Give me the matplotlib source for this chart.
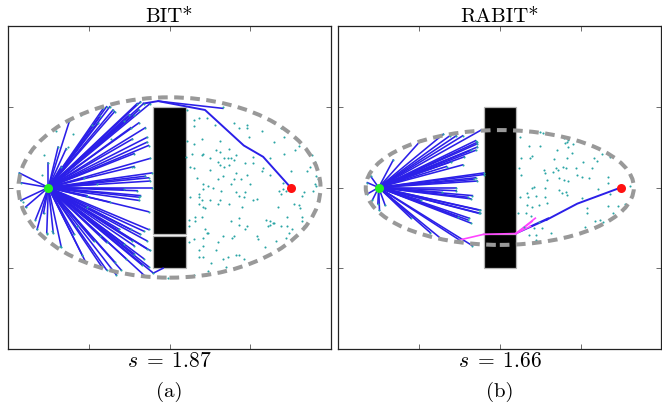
import numpy as np
import matplotlib
matplotlib.use('Agg')
import matplotlib.pyplot as plt
from matplotlib.patches import Ellipse, Rectangle

plt.rcParams['mathtext.fontset'] = 'cm'
plt.rcParams['font.family'] = 'serif'
plt.rcParams['font.serif'] = ['cmr10', 'DejaVu Serif']
plt.rcParams['axes.formatter.use_mathtext'] = True

START = (-0.75, 0.0)
GOAL = (0.75, 0.0)
titles = ['BIT*', 'RABIT*']
costs = [1.87, 1.66]
sublabels = ['(a)', '(b)']

# obstacles (x, y, w, h): a narrow gap near y = -0.29
obst_a = [(-0.1, -0.285, 0.2, 0.785), (-0.1, -0.5, 0.2, 0.2)]
obst_b = [(-0.1, -0.285, 0.2, 0.785), (-0.1, -0.5, 0.2, 0.21)]

# --- BIT* ---
bit_tree = [
    (-0.39, 0.50), (-0.37, 0.50), (-0.18, 0.53), (-0.16, 0.52), (-0.20, 0.52), (-0.62, 0.41),
    (-0.44, 0.40), (-0.43, 0.44), (-0.35, 0.48), (-0.14, 0.31), (-0.14, 0.28), (-0.15, 0.37),
    (-0.19, 0.40), (-0.22, 0.45), (-0.69, 0.25), (-0.75, 0.15), (-0.67, 0.13), (-0.22, 0.13),
    (-0.11, 0.09), (-0.13, 0.06), (-0.12, 0.04), (-0.11, 0.00), (-0.20, -0.02), (-0.19, -0.06),
    (-0.19, -0.08), (-0.37, -0.09), (-0.13, -0.15), (-0.93, 0.09), (-0.92, 0.03), (-0.92, -0.08),
    (-0.89, -0.12), (-0.82, -0.26), (-0.78, -0.16), (-0.76, -0.28), (-0.72, -0.28), (-0.67, -0.37),
    (-0.54, -0.42), (-0.42, -0.49), (-0.39, -0.51), (-0.33, -0.54), (-0.15, -0.55), (-0.13, -0.49),
    (-0.14, -0.38), (-0.14, -0.33), (-0.18, -0.29), (-0.24, -0.26), (-0.13, -0.26), (-0.31, -0.26),
    (-0.23, -0.33), (-0.22, -0.41), (-0.27, -0.44), (-0.16, -0.44), (-0.10, -0.53), (-0.41, 0.49),
    (-0.34, 0.47), (-0.25, 0.45), (-0.19, 0.48), (-0.12, 0.52), (-0.64, 0.24), (-0.23, 0.30),
    (-0.22, 0.21), (-0.12, 0.18), (-0.13, 0.26), (-0.28, 0.41), (-0.24, 0.37), (-0.15, 0.07),
    (-0.53, 0.06), (-0.45, 0.02), (-0.83, -0.20), (-0.52, -0.46), (-0.34, -0.46), (-0.30, -0.51),
    (-0.17, -0.48), (-0.12, -0.39), (-0.16, -0.27), (-0.18, -0.05), (-0.51, -0.05), (-0.28, -0.01),
    (-0.59, -0.29), (-0.47, -0.33), (-0.39, -0.34), (-0.28, -0.35), (-0.22, -0.36),
]
bit_path = [(-0.16, 0.52), (-0.07, 0.535), (0.22, 0.48), (0.46, 0.26), (0.58, 0.19), (0.75, 0.0)]
bit_extra = [((-0.07, 0.535), (0.33, 0.49)), ((-0.10, -0.53), (-0.04, -0.50))]
bit_samples = [
    (0.33, 0.50), (0.15, 0.42), (0.18, 0.43), (0.23, 0.43), (0.15, 0.38), (0.28, 0.39), (0.40, 0.40),
    (0.43, 0.37), (0.48, 0.39), (0.48, 0.37), (0.49, 0.31), (0.11, 0.29), (0.20, 0.30), (0.31, 0.29),
    (0.15, 0.27), (0.37, 0.24), (0.29, 0.23), (0.31, 0.22), (0.14, 0.21), (0.20, 0.20), (0.21, 0.205),
    (0.41, 0.20), (0.10, 0.19), (0.25, 0.18), (0.34, 0.18), (0.36, 0.18), (0.38, 0.18), (0.30, 0.16),
    (0.40, 0.17), (0.52, 0.19), (0.31, 0.14), (0.37, 0.14), (0.47, 0.15), (0.52, 0.15), (0.13, 0.13),
    (0.15, 0.12), (0.34, 0.13), (0.25, 0.11), (0.41, 0.09), (0.48, 0.08), (0.33, 0.07), (0.17, 0.06),
    (0.40, 0.05), (0.44, 0.05), (0.30, 0.05), (0.21, 0.02), (0.24, 0.01), (0.38, 0.02), (0.50, 0.02),
    (0.57, 0.35), (0.69, 0.37), (0.71, 0.31), (0.65, 0.28), (0.80, 0.26), (0.78, 0.23), (0.71, 0.21),
    (0.62, 0.18), (0.88, 0.20), (0.90, 0.16), (0.87, 0.13), (0.58, 0.12), (0.57, 0.10), (0.75, 0.10),
    (0.85, 0.10), (0.62, 0.08), (0.91, 0.07), (0.92, 0.05), (0.70, 0.03), (0.90, 0.02), (0.91, 0.01),
    (0.21, -0.01), (0.27, 0.00), (0.32, -0.02), (0.41, -0.03), (0.47, -0.03), (0.18, -0.04),
    (0.43, -0.05), (0.13, -0.06), (0.18, -0.06), (0.46, -0.06), (0.20, -0.08), (0.25, -0.08),
    (0.31, -0.08), (0.52, -0.08), (0.18, -0.10), (0.30, -0.10), (0.37, -0.10), (0.21, -0.12),
    (0.22, -0.13), (0.45, -0.12), (0.20, -0.18), (0.16, -0.18), (0.43, -0.19), (0.12, -0.20),
    (0.16, -0.21), (0.38, -0.21), (0.43, -0.23), (0.48, -0.24), (0.12, -0.24), (0.47, -0.26),
    (0.22, -0.26), (0.23, -0.28), (0.24, -0.28), (0.40, -0.30), (0.39, -0.31), (0.21, -0.31),
    (0.33, -0.30), (0.15, -0.32), (0.30, -0.34), (0.12, -0.34), (0.21, -0.36), (0.29, -0.39),
    (0.18, -0.39), (0.18, -0.43), (0.21, -0.43), (0.36, -0.43), (0.41, -0.42), (0.43, -0.42),
    (0.33, -0.44), (0.46, -0.44), (0.26, -0.47), (0.35, -0.49), (0.24, -0.52), (0.15, -0.54),
    (0.68, -0.02), (0.70, -0.01), (0.72, -0.02), (0.69, -0.04), (0.83, -0.03), (0.82, -0.05),
    (0.89, -0.02), (0.92, -0.08), (0.54, -0.07), (0.77, -0.10), (0.80, -0.11), (0.81, -0.13),
    (0.67, -0.12), (0.73, -0.18), (0.82, -0.18), (0.60, -0.20), (0.62, -0.21), (0.64, -0.22),
    (0.65, -0.22), (0.62, -0.23), (0.61, -0.24), (0.69, -0.24), (0.73, -0.24), (0.76, -0.26),
    (0.82, -0.21), (0.83, -0.24), (0.74, -0.28), (0.54, -0.30), (0.55, -0.32), (0.72, -0.31),
    (0.66, -0.33), (0.59, -0.37), (0.11, 0.48), (-0.01, -0.56),
    (-0.79, 0.08), (-0.78, 0.20), (-0.70, 0.35), (-0.63, 0.25), (-0.60, 0.33), (-0.36, 0.30),
    (-0.23, 0.13), (-0.55, 0.45), (-0.48, 0.39), (-0.73, -0.27), (-0.76, -0.29), (-0.68, -0.36),
    (-0.57, -0.24), (-0.43, -0.30), (-0.91, -0.09), (-0.51, -0.12),
]

# --- RABIT* ---
rabit_tree = [
    (-0.49, 0.29), (-0.35, 0.33), (-0.31, 0.32), (-0.27, 0.32), (-0.23, 0.32), (-0.115, 0.356),
    (-0.15, 0.29), (-0.14, 0.27), (-0.14, 0.25), (-0.18, 0.23), (-0.22, 0.19), (-0.30, 0.16),
    (-0.33, 0.13), (-0.23, 0.14), (-0.66, 0.17), (-0.10, 0.09), (-0.15, 0.06), (-0.14, 0.04),
    (-0.27, 0.00), (-0.27, -0.02), (-0.36, -0.03), (-0.20, -0.06), (-0.18, -0.07), (-0.49, -0.08),
    (-0.13, -0.14), (-0.13, -0.16), (-0.18, -0.22), (-0.20, -0.20), (-0.26, -0.18), (-0.55, -0.19),
    (-0.43, -0.28), (-0.36, -0.32), (-0.25, -0.325), (-0.17, -0.36), (-0.80, 0.07), (-0.82, 0.03),
    (-0.82, -0.04), (-0.79, -0.08), (-0.745, -0.14), (-0.71, -0.11), (-0.755, -0.10), (-0.10, 0.08),
    (-0.14, 0.28), (-0.15, 0.23), (-0.16, 0.05), (-0.17, -0.05), (-0.12, -0.14), (-0.12, -0.16),
    (-0.19, -0.19),
]
rabit_magenta = [((-0.25, -0.325), (-0.10, -0.29)), ((-0.10, -0.29), (0.10, -0.285)),
                 ((0.10, -0.285), (0.22, -0.19)), ((0.10, -0.285), (0.20, -0.21)),
                 ((0.10, -0.285), (0.19, -0.24))]
rabit_extra = [((0.10, -0.285), (0.29, -0.20)), ((0.19, -0.24), (0.30, -0.19))]
rabit_path = [(0.29, -0.20), (0.48, -0.10), (0.75, 0.0)]
rabit_samples = [
    (0.126, 0.314), (0.182, 0.257), (0.250, 0.259), (0.398, 0.305), (0.419, 0.284), (0.423, 0.249),
    (0.357, 0.232), (0.450, 0.212), (0.134, 0.185), (0.188, 0.181), (0.202, 0.197), (0.336, 0.176),
    (0.419, 0.181), (0.120, 0.119), (0.130, 0.077), (0.275, 0.108), (0.281, 0.092), (0.330, 0.098),
    (0.347, 0.119), (0.363, 0.108), (0.394, 0.129), (0.409, 0.119), (0.471, 0.119), (0.367, 0.057),
    (0.398, 0.046), (0.425, 0.040), (0.481, 0.077), (0.291, 0.046), (0.213, 0.005), (0.202, -0.005),
    (0.281, -0.001), (0.367, -0.015), (0.409, -0.026), (0.419, -0.046), (0.388, -0.036),
    (0.126, -0.057), (0.171, -0.036), (0.176, -0.057), (0.223, -0.051), (0.281, -0.057),
    (0.295, -0.098), (0.171, -0.108), (0.202, -0.119), (0.244, -0.108), (0.114, -0.160),
    (0.161, -0.160), (0.192, -0.174), (0.244, -0.212), (0.213, -0.253), (0.151, -0.243),
    (0.264, -0.253), (0.316, -0.284), (0.182, -0.294), (0.223, -0.325), (0.223, -0.294),
    (0.516, 0.160), (0.584, 0.185), (0.599, 0.164), (0.634, 0.206), (0.681, 0.191), (0.568, 0.123),
    (0.510, 0.067), (0.553, 0.057), (0.671, 0.067), (0.667, 0.026), (0.609, -0.011), (0.681, -0.042),
    (0.805, 0.011), (0.510, -0.063), (0.537, -0.129), (0.543, -0.160), (0.667, -0.115),
    (0.733, -0.115), (0.702, -0.160), (0.774, -0.104), (0.774, -0.125), (0.588, -0.207),
    (0.619, -0.201), (0.640, -0.212), (0.526, -0.243), (0.250, 0.346), (0.270, 0.336),
    (0.405, 0.274), (0.425, 0.294), (0.456, 0.267),
]

BLUE = '#2b1fe8'
TEAL = '#2aa5a5'


def draw_panel(ax, tree, samples, obst, cost, extra, path, magenta=None):
    for (x, y, w, h) in obst:
        ax.add_patch(Rectangle((x, y), w, h, facecolor='black', edgecolor='#b5b5b5',
                               lw=0.9, zorder=2))
    tree = np.array(tree)
    for ex, ey in tree:
        ax.plot([START[0], ex], [START[1], ey], color=BLUE, lw=1.15, zorder=3)
    for (p0, p1) in extra:
        ax.plot([p0[0], p1[0]], [p0[1], p1[1]], color=BLUE, lw=1.15, zorder=3)
    path = np.array(path)
    ax.plot(path[:, 0], path[:, 1], color=BLUE, lw=1.4, zorder=3)
    if magenta is not None:
        for (p0, p1) in magenta:
            ax.plot([p0[0], p1[0]], [p0[1], p1[1]], color='#ff45ff', lw=1.2, zorder=4)
    pts = np.vstack([np.array(samples), tree])
    ax.plot(pts[:, 0], pts[:, 1], 'o', ms=1.5, mew=0, color=TEAL, zorder=4)
    a = cost / 2.0
    b = np.sqrt(a ** 2 - GOAL[0] ** 2)
    ax.add_patch(Ellipse((0, 0), 2 * a, 2 * b, fill=False, edgecolor='#999999',
                         lw=2.9, linestyle=(0, (2.4, 1.6)), zorder=5))
    ax.plot(*START, 'o', ms=6.5, color='#22ee22', mew=0, zorder=6)
    ax.plot(*GOAL, 'o', ms=6.5, color='#ff1111', mew=0, zorder=6)
    ax.set_xlim(-1, 1)
    ax.set_ylim(-1, 1)
    ax.set_xticks([-0.5, 0, 0.5])
    ax.set_yticks([-0.5, 0, 0.5])
    ax.tick_params(direction='in', length=3.5, width=0.6, color='#555555',
                   labelbottom=False, labelleft=False, top=True, right=True)
    for sp in ax.spines.values():
        sp.set_linewidth(0.9)
        sp.set_color('#222222')


fig = plt.figure(figsize=(6.62, 4.04), dpi=100)
ax1 = fig.add_axes([8 / 662, 55 / 404, 323 / 662, 323 / 404])
ax2 = fig.add_axes([338.3 / 662, 55 / 404, 323 / 662, 323 / 404])

draw_panel(ax1, bit_tree, bit_samples, obst_a, costs[0], bit_extra, bit_path)
draw_panel(ax2, rabit_tree, rabit_samples, obst_b, costs[1], rabit_extra, rabit_path,
           magenta=rabit_magenta)

for ax, t, c, lab in zip([ax1, ax2], titles, costs, sublabels):
    ax.set_title(t, fontsize=15, pad=3)
    pos = ax.get_position()
    xc = (pos.x0 + pos.x1) / 2
    fig.text(xc, 1 - 361 / 404, r'$s\;=\;%.2f$' % c, ha='center', va='center', fontsize=15.5)
    fig.text(xc, 1 - 392 / 404, lab, ha='center', va='center', fontsize=15)

fig.savefig('out.png', dpi=100)
